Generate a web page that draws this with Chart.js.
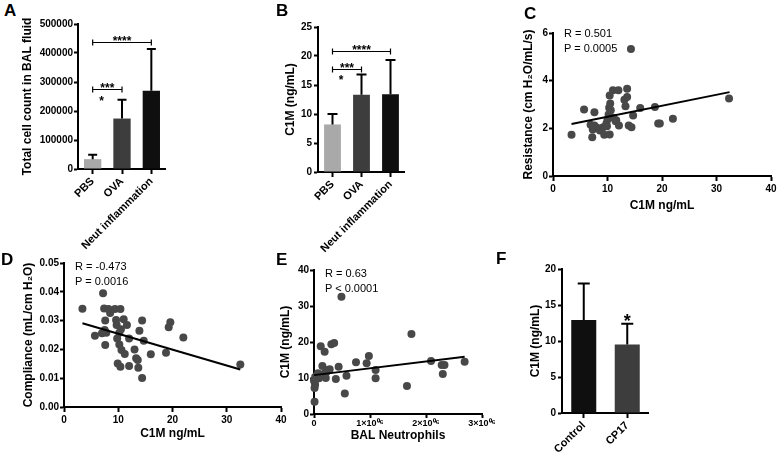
<!DOCTYPE html>
<html>
<head>
<meta charset="utf-8">
<script src="https://cdn.jsdelivr.net/npm/chart.js@4/dist/chart.umd.min.js"></script>
<style>
  html, body { margin: 0; padding: 0; background: #fff; }
  #fig { position: relative; width: 777px; height: 454px; overflow: hidden;
         font-family: "Liberation Sans", Arial, Helvetica, sans-serif; color: #000; }
  canvas { position: absolute; }
  .letter { position: absolute; font-weight: bold; font-size: 17px; line-height: 17px; }
  .stat { position: absolute; font-size: 11px; line-height: 15px; white-space: nowrap; }
</style>
</head>
<body>
<div id="fig">
  <canvas id="chartA" width="146" height="254" style="left:20px;top:0px"></canvas>
  <canvas id="chartB" width="122" height="257" style="left:283px;top:0px"></canvas>
  <canvas id="chartC" width="256" height="213" style="left:521px;top:0px"></canvas>
  <canvas id="chartD" width="268" height="196" style="left:21px;top:245px"></canvas>
  <canvas id="chartE" width="219" height="198" style="left:278px;top:245px"></canvas>
  <canvas id="chartF" width="121" height="209" style="left:528px;top:245px"></canvas>

  <div class="letter" style="left:4px;top:2px">A</div>
  <div class="letter" style="left:276px;top:2px">B</div>
  <div class="letter" style="left:524px;top:5px">C</div>
  <div class="letter" style="left:1px;top:251px">D</div>
  <div class="letter" style="left:276px;top:251px">E</div>
  <div class="letter" style="left:496px;top:250px">F</div>

  <div class="stat" style="left:564px;top:26px">R = 0.501<br>P = 0.0005</div>
  <div class="stat" style="left:75px;top:259px">R = -0.473<br>P = 0.0016</div>
  <div class="stat" style="left:325px;top:266px">R = 0.63<br>P &lt; 0.0001</div>
</div>

<script>
// bar panels
const groupLabels = ["PBS", "OVA", "Neut inflammation"];
const cellMeans = [34000, 174000, 270000];
const cellErrTops = [49000, 239000, 414000];
const cellTicks = [0, 100000, 200000, 300000, 400000, 500000];

const c1mMeans = [8.2, 13.3, 13.4];
const c1mErrTops = [10.0, 16.8, 19.3];
const c1mTicks = [0, 5, 10, 15, 20, 25];

const cpLabels = ["Control", "CP17"];
const cpMeans = [12.9, 9.5];
const cpErrTops = [18.0, 12.4];
const cpTicks = [0, 5, 10, 15, 20];

// significance marks (category index, y value)
const cellBrackets = [
  { from: 0, to: 2, at: 438000, text: "****" },
  { from: 0, to: 1, at: 276000, text: "***" },
];
const cellStars = [{ pos: 0.3, at: 219000, text: "*" }];
const c1mBrackets = [
  { from: 0, to: 2, at: 20.9, text: "****" },
  { from: 0, to: 1, at: 17.8, text: "***" },
];
const c1mStars = [{ pos: 0.3, at: 15.1, text: "*" }];
const cpStars = [{ pos: 1, at: 12.0, text: "*" }];

// C: resistance vs C1M
const resistPoints = [
  [3.4, 1.73], [5.7, 2.79], [7.2, 1.63], [6.9, 2.15], [7.6, 2.68], [7.3, 1.95],
  [7.6, 2.12], [8.1, 2.02], [8.6, 1.91], [9.2, 2.05], [9.4, 1.73], [9.8, 2.2],
  [9.9, 2.09], [10.0, 2.37], [10.2, 2.58], [10.3, 2.86], [10.4, 3.38], [10.5, 3.04],
  [10.4, 1.74], [10.6, 2.76], [11.0, 3.6], [11.1, 2.44], [11.6, 2.34], [11.5, 2.3],
  [12.0, 3.6], [12.1, 2.12], [13.1, 3.2], [13.3, 2.93], [13.6, 3.31], [13.6, 3.66],
  [13.9, 2.12], [14.3, 5.33], [14.4, 2.05], [14.7, 2.54], [16.0, 2.85], [18.7, 2.9],
  [19.3, 2.2], [19.6, 2.2], [22.0, 2.4], [32.3, 3.25],
];
const resistFit = [[3.4, 2.18], [32.4, 3.52]];
const c1mXTicks = [0, 10, 20, 30, 40];
const resistTicks = [0, 2, 4, 6];

// D: compliance vs C1M
const complPoints = [
  [3.4, 0.0341], [5.7, 0.0247], [7.2, 0.0395], [7.4, 0.0342], [7.6, 0.030], [7.6, 0.0215],
  [7.0, 0.0256], [7.5, 0.0267], [7.8, 0.0258], [8.2, 0.034], [8.5, 0.0326], [9.4, 0.034],
  [9.6, 0.0302], [9.7, 0.0285], [9.8, 0.0238], [9.9, 0.0151], [10.2, 0.0258], [10.4, 0.034],
  [10.2, 0.0217], [10.4, 0.014], [10.5, 0.027], [10.6, 0.0198], [11.0, 0.0305], [11.2, 0.0184],
  [11.6, 0.0285], [12.0, 0.0238], [12.0, 0.0142], [13.0, 0.020], [13.3, 0.0169], [13.6, 0.0163],
  [13.7, 0.0136], [13.9, 0.0265], [14.4, 0.030], [14.4, 0.0101], [14.7, 0.023], [16.0, 0.0183],
  [18.8, 0.0188], [19.3, 0.0277], [19.6, 0.0294], [22.0, 0.0241], [32.5, 0.0148],
];
const complFit = [[3.4, 0.0291], [32.5, 0.0130]];
const complTicks = [0, 0.01, 0.02, 0.03, 0.04, 0.05];

// E: C1M vs BAL neutrophils
const neutPoints = [
  [10000, 3.4], [10000, 7.2], [20000, 8.1], [10000, 9.0], [30000, 9.9], [50000, 10.6],
  [0, 9.3], [20000, 10.3], [90000, 9.9], [120000, 18.8], [150000, 13.3], [190000, 17.3],
  [120000, 10.6], [170000, 10.6], [190000, 11.3], [230000, 11.8], [250000, 12.2], [210000, 10.0],
  [70000, 11.3], [280000, 12.4], [310000, 19.4], [360000, 19.7], [390000, 9.7], [440000, 13.1],
  [490000, 32.6], [550000, 5.7], [580000, 10.6], [750000, 14.4], [940000, 14.1], [980000, 16.1],
  [1100000, 12.2], [1100000, 9.9], [1660000, 7.8], [1740000, 22.2], [2090000, 14.7],
  [2280000, 13.6], [2330000, 13.6], [2300000, 11.1], [2690000, 14.5],
];
const neutFit = [[0, 10.8], [2690000, 15.9]];
const neutXTicks = [0, 1000000, 2000000, 3000000];
const neutXLabels = ["0", "1\u00d710\u2070\u2076", "2\u00d710\u2070\u2076", "3\u00d710\u2070\u2076"];
const neutYTicks = [0, 10, 20, 30, 40];

const FONT = "'Liberation Sans', Arial, Helvetica, sans-serif";
Chart.defaults.font.family = FONT;
Chart.defaults.color = "#000";

// lock the axis box size so the plot area lands where we want it
function fixBox(size) {
  return function (scale) {
    if (scale.isHorizontal()) scale.height = size;
    else scale.width = size;
    scale.paddingLeft = 0;
    scale.paddingRight = 0;
    scale.paddingTop = 0;
    scale.paddingBottom = 0;
  };
}

function makeAxis(cfg) {
  const axis = {
    type: cfg.type,
    offset: cfg.type === "category",
    afterFit: fixBox(cfg.size),
    grid: {
      drawOnChartArea: false,
      drawTicks: true,
      tickLength: cfg.tick || 5,
      tickWidth: 2,
      tickColor: "#000",
      offset: false,
    },
    border: { display: true, color: "#000", width: 2 },
    ticks: {
      color: "#000",
      padding: cfg.pad !== undefined ? cfg.pad : 2,
      autoSkip: false,
      maxRotation: cfg.rot || 0,
      minRotation: cfg.rot || 0,
      font: { size: cfg.fontSize || 10, weight: "bold" },
    },
    title: cfg.title
      ? { display: true, text: cfg.title, padding: 0, color: "#000", font: { size: 12, weight: "bold" } }
      : { display: false },
  };
  if (cfg.label) axis.ticks.callback = cfg.label;
  if (cfg.min !== undefined) {
    axis.min = cfg.min;
    axis.max = cfg.max;
  }
  if (cfg.values) {
    const vals = cfg.values;
    axis.afterBuildTicks = function (scale) {
      scale.ticks = vals.map((v) => ({ value: v }));
    };
  }
  return axis;
}

// error bars, brackets and stars on top of the bars
function marksPlugin(m) {
  return {
    id: "marks",
    afterDatasetsDraw(chart) {
      const ctx = chart.ctx;
      const xs = chart.scales.x;
      const ys = chart.scales.y;
      ctx.save();
      ctx.strokeStyle = "#000";
      ctx.fillStyle = "#000";
      ctx.lineWidth = 2;
      m.errTops.forEach((e, i) => {
        const cx = xs.getPixelForValue(i);
        const yTop = ys.getPixelForValue(e);
        const yBar = ys.getPixelForValue(m.means[i]);
        ctx.beginPath();
        ctx.moveTo(cx, yBar);
        ctx.lineTo(cx, yTop);
        ctx.moveTo(cx - m.cap, yTop);
        ctx.lineTo(cx + m.cap, yTop);
        ctx.stroke();
      });
      ctx.lineWidth = 1.2;
      ctx.textAlign = "center";
      ctx.textBaseline = "alphabetic";
      (m.brackets || []).forEach((b) => {
        const x1 = xs.getPixelForValue(b.from);
        const x2 = xs.getPixelForValue(b.to);
        const y = Math.round(ys.getPixelForValue(b.at)) + 0.5;
        ctx.beginPath();
        ctx.moveTo(x1, y);
        ctx.lineTo(x2, y);
        ctx.moveTo(x1, y - 3);
        ctx.lineTo(x1, y + 3);
        ctx.moveTo(x2, y - 3);
        ctx.lineTo(x2, y + 3);
        ctx.stroke();
        ctx.font = "bold 12px " + FONT;
        ctx.fillText(b.text, (x1 + x2) / 2, y + 2);
      });
      (m.stars || []).forEach((s) => {
        ctx.font = "bold " + m.starSize + "px " + FONT;
        ctx.fillText(s.text, xs.getPixelForValue(s.pos), ys.getPixelForValue(s.at));
      });
      ctx.restore();
    },
  };
}

function barChart(id, labels, means, errTops, colors, o) {
  new Chart(document.getElementById(id), {
    type: "bar",
    data: {
      labels: labels,
      datasets: [
        {
          data: means,
          backgroundColor: colors,
          borderWidth: 0,
          barPercentage: o.barPct,
          categoryPercentage: 1,
        },
      ],
    },
    options: {
      responsive: false,
      animation: false,
      layout: { padding: { top: o.padTop, right: 0, bottom: 0, left: 0 } },
      plugins: { legend: { display: false }, tooltip: { enabled: false } },
      scales: {
        x: makeAxis({ type: "category", size: o.xSize, rot: 45, fontSize: 11, pad: 1 }),
        y: makeAxis({
          type: "linear", min: 0, max: o.max, values: o.ticks, size: o.ySize,
          title: o.title, pad: o.yPad, tick: 4, label: (v) => String(v),
        }),
      },
    },
    plugins: [
      marksPlugin({ means: means, errTops: errTops, brackets: o.brackets, stars: o.stars, cap: o.cap, starSize: o.starSize }),
    ],
  });
}

function toXY(pts) {
  return pts.map((p) => ({ x: p[0], y: p[1] }));
}

function scatterChart(id, points, fit, o) {
  new Chart(document.getElementById(id), {
    type: "scatter",
    data: {
      datasets: [
        {
          type: "line",
          data: toXY(fit),
          borderColor: "#000",
          borderWidth: 2,
          pointRadius: 0,
          fill: false,
          clip: false,
        },
        {
          data: toXY(points),
          backgroundColor: "#484848",
          borderWidth: 0,
          pointRadius: 4,
          clip: false,
        },
      ],
    },
    options: {
      responsive: false,
      animation: false,
      layout: { padding: { top: o.padTop, right: o.padRight, bottom: 0, left: 0 } },
      plugins: { legend: { display: false }, tooltip: { enabled: false } },
      scales: {
        x: makeAxis({
          type: "linear", min: o.xMin, max: o.xMax, values: o.xTicks, size: o.xSize,
          title: o.xTitle, label: o.xLabel, pad: o.xPad, tick: o.xTick, fontSize: o.xFontSize,
        }),
        y: makeAxis({
          type: "linear", min: o.yMin, max: o.yMax, values: o.yTicks, size: o.ySize,
          title: o.yTitle, pad: 1, tick: 4, label: o.yLabel,
        }),
      },
    },
  });
}

barChart("chartA", groupLabels, cellMeans, cellErrTops, ["#a9a9a9", "#3d3d3d", "#0f0f0f"], {
  max: 500000, ticks: cellTicks, title: "Total cell count in BAL fluid",
  padTop: 24, xSize: 85, ySize: 58, yPad: 1, barPct: 0.59, cap: 4.5,
  brackets: cellBrackets, stars: cellStars, starSize: 12,
});

barChart("chartB", groupLabels, c1mMeans, c1mErrTops, ["#a9a9a9", "#3d3d3d", "#0f0f0f"], {
  max: 25, ticks: c1mTicks, title: "C1M (ng/mL)",
  padTop: 27, xSize: 85, ySize: 35, yPad: 2, barPct: 0.58, cap: 5,
  brackets: c1mBrackets, stars: c1mStars, starSize: 12,
});

barChart("chartF", cpLabels, cpMeans, cpErrTops, ["#0f0f0f", "#3d3d3d"], {
  max: 20, ticks: cpTicks, title: "C1M (ng/mL)",
  padTop: 24, xSize: 41, ySize: 34, yPad: 2, barPct: 0.575, cap: 6,
  brackets: [], stars: cpStars, starSize: 18,
});

scatterChart("chartC", resistPoints, resistFit, {
  padTop: 33, padRight: 6, xSize: 37, ySize: 32,
  xMin: 0, xMax: 40, xTicks: c1mXTicks, xTitle: "C1M ng/mL", xLabel: (v) => String(v),
  yMin: 0, yMax: 6, yTicks: resistTicks, yTitle: "Resistance (cm H\u2082O/mL/s)", yLabel: (v) => String(v),
});

scatterChart("chartD", complPoints, complFit, {
  padTop: 18, padRight: 8, xSize: 34, ySize: 43,
  xMin: 0, xMax: 40, xTicks: c1mXTicks, xTitle: "C1M ng/mL", xLabel: (v) => String(v),
  yMin: 0, yMax: 0.05, yTicks: complTicks, yTitle: "Compliance (mL/cm H\u2082O)", yLabel: (v) => v.toFixed(2),
});

scatterChart("chartE", neutPoints, neutFit, {
  padTop: 25, padRight: 15, xSize: 29, ySize: 36, xPad: 0, xTick: 4, xFontSize: 9,
  xMin: 0, xMax: 3000000, xTicks: neutXTicks, xTitle: "BAL Neutrophils", xLabel: (v, i) => neutXLabels[i],
  yMin: 0, yMax: 40, yTicks: neutYTicks, yTitle: "C1M (ng/mL)", yLabel: (v) => String(v),
});
</script>
</body>
</html>
